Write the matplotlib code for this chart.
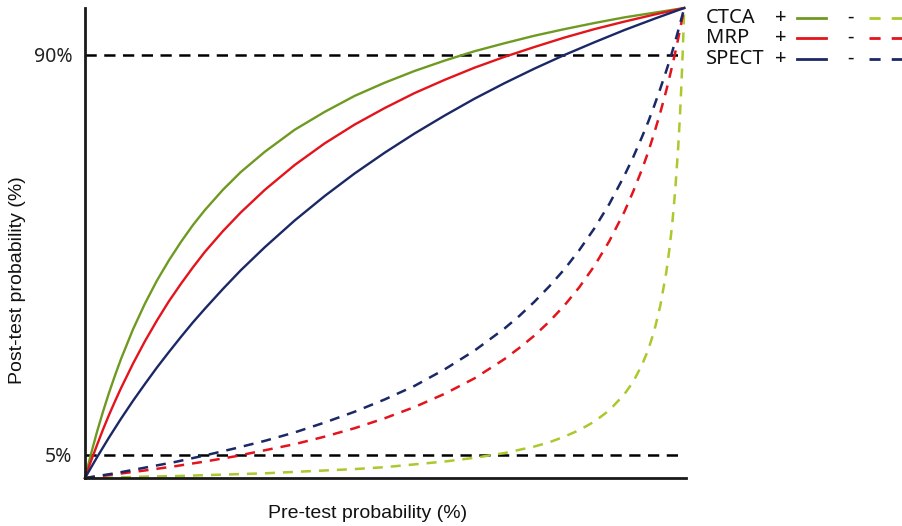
import numpy as np
import matplotlib.pyplot as plt
from matplotlib.lines import Line2D

# pre-test probability grid and read-off post-test probabilities
pre_pos = [0, 0.005, 0.01, 0.02, 0.03, 0.04, 0.05, 0.06, 0.08, 0.1, 0.12, 0.14,
           0.16, 0.18, 0.2, 0.23, 0.26, 0.3, 0.35, 0.4, 0.45, 0.5, 0.55, 0.6,
           0.65, 0.7, 0.75, 0.8, 0.85, 0.9, 0.95, 1.0]
ctca_pos = [0, 0.026, 0.051, 0.098, 0.141, 0.181, 0.218, 0.253, 0.316, 0.371,
            0.420, 0.463, 0.502, 0.538, 0.570, 0.613, 0.651, 0.694, 0.741,
            0.779, 0.813, 0.841, 0.866, 0.888, 0.908, 0.925, 0.941, 0.955,
            0.968, 0.980, 0.990, 1.0]
mrp_pos = [0, 0.018, 0.036, 0.070, 0.103, 0.134, 0.163, 0.191, 0.243, 0.291,
           0.335, 0.376, 0.413, 0.448, 0.481, 0.525, 0.565, 0.613, 0.666,
           0.712, 0.752, 0.787, 0.819, 0.847, 0.873, 0.896, 0.917, 0.937,
           0.955, 0.971, 0.986, 1.0]
spect_pos = [0, 0.011, 0.022, 0.044, 0.065, 0.086, 0.106, 0.126, 0.164, 0.200,
             0.235, 0.268, 0.300, 0.331, 0.360, 0.402, 0.442, 0.491, 0.548,
             0.600, 0.648, 0.692, 0.733, 0.771, 0.807, 0.840, 0.871, 0.900,
             0.927, 0.953, 0.977, 1.0]

pre_neg = [0, 0.05, 0.1, 0.15, 0.2, 0.25, 0.3, 0.35, 0.4, 0.45, 0.5, 0.55, 0.6,
           0.65, 0.7, 0.725, 0.75, 0.775, 0.8, 0.825, 0.85, 0.875, 0.9, 0.915,
           0.93, 0.94, 0.95, 0.96, 0.97, 0.975, 0.98, 0.985, 0.99, 0.993,
           0.995, 0.997, 0.998, 0.999, 1.0]
ctca_neg = [0, 0.001, 0.003, 0.004, 0.006, 0.008, 0.010, 0.013, 0.016, 0.019,
            0.023, 0.029, 0.035, 0.043, 0.053, 0.060, 0.067, 0.076, 0.088,
            0.102, 0.120, 0.144, 0.178, 0.205, 0.242, 0.273, 0.313, 0.366,
            0.437, 0.484, 0.540, 0.612, 0.704, 0.773, 0.827, 0.889, 0.923,
            0.960, 1.0]
mrp_neg = [0, 0.008, 0.016, 0.025, 0.035, 0.046, 0.059, 0.072, 0.088, 0.106,
           0.127, 0.151, 0.179, 0.212, 0.253, 0.277, 0.303, 0.333, 0.367,
           0.406, 0.451, 0.504, 0.566, 0.610, 0.658, 0.694, 0.734, 0.777,
           0.824, 0.850, 0.877, 0.905, 0.935, 0.954, 0.967, 0.980, 0.986,
           0.993, 1.0]
spect_neg = [0, 0.010, 0.022, 0.034, 0.048, 0.063, 0.079, 0.097, 0.118, 0.141,
             0.167, 0.196, 0.231, 0.271, 0.318, 0.345, 0.375, 0.408, 0.444,
             0.485, 0.531, 0.583, 0.643, 0.683, 0.727, 0.758, 0.792, 0.828,
             0.866, 0.886, 0.907, 0.929, 0.952, 0.966, 0.976, 0.985, 0.990,
             0.995, 1.0]

ref_levels = [0.05, 0.9]
ref_labels = ['5%', '90%']

green = '#6f9a22'
green_d = '#a9c92c'
red = '#e3141c'
blue = '#1b2866'
label_font = 'Noto Sans'

fig = plt.figure(figsize=(9.02, 5.26), dpi=100)
ax = fig.add_axes([85 / 902, 48 / 526, 601 / 902, 470 / 526])

for lvl in ref_levels:
    ax.plot([0, 0.99], [lvl, lvl], color='black', lw=1.8, dashes=(4.5, 3))

ax.plot(pre_pos, ctca_pos, color=green, lw=1.7, clip_on=False)
ax.plot(pre_pos, mrp_pos, color=red, lw=1.7, clip_on=False)
ax.plot(pre_pos, spect_pos, color=blue, lw=1.7, clip_on=False)
ax.plot(pre_neg, ctca_neg, color=green_d, lw=1.8, dashes=(4, 3.2), clip_on=False)
ax.plot(pre_neg, mrp_neg, color=red, lw=1.8, dashes=(4, 3.2), clip_on=False)
ax.plot(pre_neg, spect_neg, color=blue, lw=1.8, dashes=(4, 3.2), clip_on=False)

ax.set_xlim(0, 1.003)
ax.set_ylim(0, 1)
for s in ['top', 'right']:
    ax.spines[s].set_visible(False)
for s in ['left', 'bottom']:
    ax.spines[s].set_linewidth(2)
    ax.spines[s].set_color('#1a1a1a')
ax.set_xticks([])
ax.set_yticks(ref_levels)
ax.set_yticklabels(ref_labels, fontsize=14, family=label_font, color='#222222')
ax.tick_params(axis='y', length=0, pad=9)

fig.text(368 / 902, 12 / 526, 'Pre-test probability (%)', ha='center', va='center',
         fontsize=14, family='Liberation Sans', color='#111111')
fig.text(18 / 902, 1 - 280 / 526, 'Post-test probability (%)', ha='center', va='center',
         rotation=90, fontsize=14, family='Liberation Sans', color='#111111')

# legend drawn by hand
rows = [('CTCA', green, green_d, 18), ('MRP', red, red, 38), ('SPECT', blue, blue, 59)]
for name, c1, c2, ypx in rows:
    yf = 1 - ypx / 526
    fig.text(706 / 902, yf, name, ha='left', va='center', fontsize=14.5,
             family=label_font, color='#111111')
    fig.text(781 / 902, yf, '+', ha='center', va='center', fontsize=14.5,
             family=label_font, color='#111111')
    fig.text(850 / 902, yf, '-', ha='center', va='center', fontsize=14.5,
             family=label_font, color='#111111')
    fig.add_artist(Line2D([797 / 902, 826 / 902], [yf, yf], color=c1, lw=2,
                          transform=fig.transFigure))
    fig.add_artist(Line2D([869 / 902, 902 / 902], [yf, yf], color=c2, lw=2,
                          dashes=(4, 4), transform=fig.transFigure))

fig.savefig('out.png', dpi=100)
